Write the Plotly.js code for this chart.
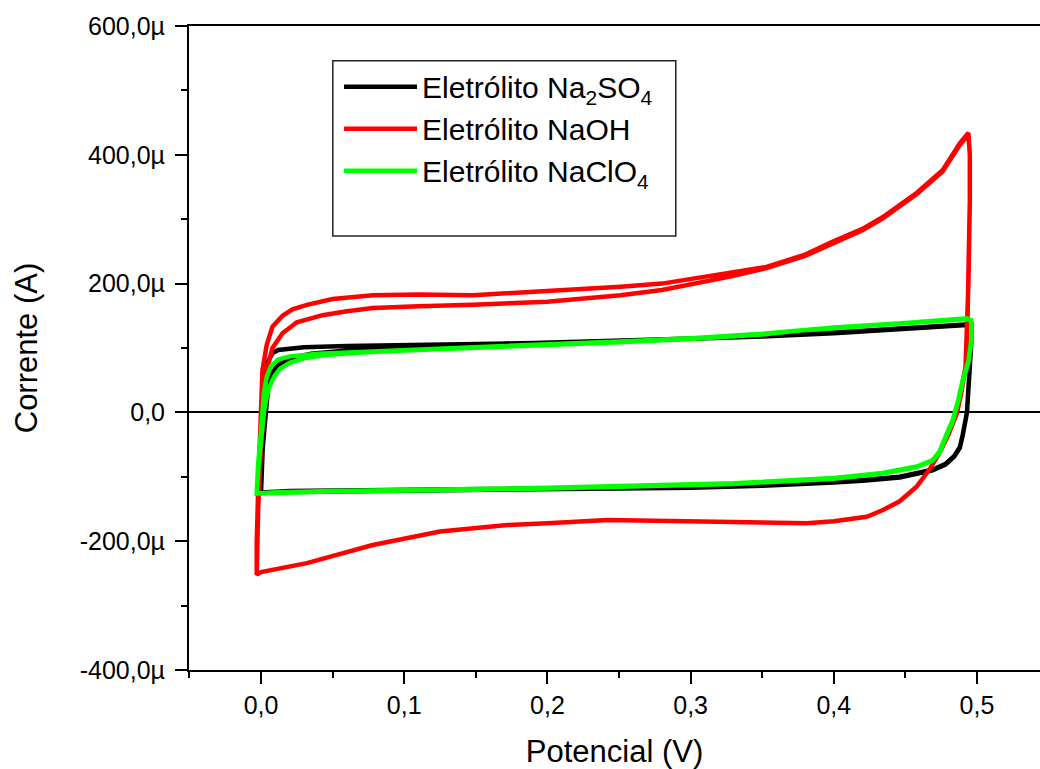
<!DOCTYPE html>
<html>
<head>
<meta charset="utf-8">
<script src="https://cdn.plot.ly/plotly-3.0.1.min.js"></script>
<style>html,body{margin:0;padding:0;background:#fff;}#chart{width:1040px;height:769px;}</style>
</head>
<body>
<div id="chart"></div>
<script>
// Series names
var seriesNames = ['Eletrólito Na<sub>2</sub>SO<sub>4</sub>', 'Eletrólito NaOH', 'Eletrólito NaClO<sub>4</sub>'];

// Potential (V) and current (µA), two cycles each
var na2so4X = [0.000,0.001,0.002,0.003,0.005,0.008,0.012,0.030,0.060,0.100,0.150,0.200,0.250,0.300,0.350,0.400,0.450,0.490,0.496,
  0.496,0.495,0.493,0.490,0.488,0.484,0.478,0.469,0.455,0.446,0.420,0.400,0.350,0.300,0.250,0.200,0.150,0.100,0.050,0.020,0.003,0.000,
  0.001,0.003,0.005,0.008,0.012,0.020,0.035,0.060,0.100,0.150,0.200,0.250,0.300,0.350,0.400,0.450,0.490,0.496,
  0.496,0.495,0.493,0.490,0.488,0.484,0.478,0.469,0.455,0.446,0.420,0.400,0.350,0.300,0.250,0.200,0.150,0.100,0.050,0.020,0.003,0.000];
var na2so4Y = [-124,-60,0,50,80,92,97,101,103,104,106,108,111,114,118,124,130,136,137,
  110,71,0,-35,-54,-68,-80,-89,-96,-100,-105,-108,-113,-116,-117,-118,-119,-120,-121,-122,-124,-125,
  -60,0,40,62,74,84,91,96,101,105,108,111,114,118,123,129,135,136,
  108,70,0,-36,-55,-69,-81,-90,-97,-101,-106,-109,-114,-117,-118,-119,-120,-121,-122,-123,-124,-125];

var naohX = [-0.003,-0.003,-0.002,-0.001,0.000,0.001,0.004,0.008,0.015,0.022,0.032,0.050,0.078,0.110,0.148,0.180,0.218,0.237,0.251,0.280,0.307,0.330,0.353,0.380,0.399,0.420,0.434,0.458,0.476,0.488,0.494,
  0.495,0.495,0.494,0.493,0.492,0.489,0.486,0.480,0.474,0.467,0.458,0.446,0.434,0.423,0.400,0.381,0.350,0.330,0.300,0.270,0.242,0.200,0.172,0.125,0.078,0.032,0.000,-0.003,
  -0.002,0.000,0.002,0.004,0.008,0.015,0.025,0.043,0.060,0.078,0.110,0.148,0.200,0.237,0.251,0.280,0.307,0.330,0.353,0.380,0.399,0.420,0.434,0.458,0.476,0.488,0.494,
  0.495,0.495,0.494,0.493,0.492,0.489,0.486,0.480,0.474,0.467,0.458,0.446,0.434,0.423,0.400,0.381,0.350,0.330,0.300,0.270,0.242,0.200,0.172,0.125,0.078,0.032,0.000,-0.003];
var naohY = [-252,-200,-120,-40,20,66,105,133,150,160,167,176,182,183,182,186,190,193,195,200,210,217,226,245,265,285,303,341,376,418,434,
  400,330,200,100,71,30,-1,-35,-62,-88,-115,-138,-152,-162,-169,-172,-171,-170,-168,-168,-167,-172,-175,-185,-206,-234,-248,-252,
  -150,-50,20,66,100,123,140,151,157,162,165,167,172,179,182,190,201,212,224,243,262,283,301,339,374,415,432,
  400,330,200,100,71,30,-1,-35,-62,-88,-115,-138,-152,-162,-169,-172,-171,-170,-168,-168,-167,-172,-175,-185,-206,-234,-248,-252];

var naclo4X = [-0.003,-0.002,0.000,0.001,0.002,0.004,0.007,0.012,0.020,0.040,0.070,0.100,0.150,0.200,0.250,0.300,0.350,0.376,0.400,0.450,0.480,0.493,0.496,
  0.496,0.494,0.490,0.487,0.483,0.478,0.474,0.469,0.458,0.434,0.400,0.330,0.300,0.250,0.200,0.150,0.100,0.050,0.010,-0.003,
  -0.002,0.000,0.002,0.004,0.006,0.009,0.013,0.020,0.030,0.045,0.070,0.100,0.150,0.200,0.250,0.300,0.350,0.376,0.400,0.450,0.480,0.493,0.496,
  0.496,0.494,0.490,0.487,0.483,0.478,0.474,0.469,0.458,0.434,0.400,0.330,0.300,0.250,0.200,0.150,0.100,0.050,0.010,-0.003];
var naclo4Y = [-124,-80,-30,0,30,55,72,82,87,91,94,97,101,106,110,115,122,128,132,139,144,146,143,
  112,80,50,20,-12,-38,-60,-74,-84,-94,-102,-110,-112,-115,-117,-119,-120,-122,-124,-126,
  -90,-40,0,25,40,55,67,77,84,89,93,96,100,105,109,114,121,127,131,138,143,145,142,
  110,78,48,18,-14,-40,-62,-75,-85,-95,-103,-111,-113,-116,-118,-120,-121,-123,-125,-126];

var seriesX = [na2so4X, naohX, naclo4X];
var seriesY = [na2so4Y, naohY, naclo4Y];
var seriesColors = ['#000000', '#ff0000', '#00ff00'];

// Tick labels
var xTickVals = [0, 0.1, 0.2, 0.3, 0.4, 0.5];
var xTickText = ['0,0', '0,1', '0,2', '0,3', '0,4', '0,5'];
var yTickVals = [-400, -200, 0, 200, 400, 600];
var yTickText = ['-400,0µ', '-200,0µ', '0,0', '200,0µ', '400,0µ', '600,0µ'];

var traces = seriesNames.map(function(n, i) {
  return {
    x: seriesX[i], y: seriesY[i], name: n, type: 'scatter', mode: 'lines',
    line: {color: seriesColors[i], width: 4.5},
    hoverinfo: 'skip'
  };
});

var FONT = 'Liberation Sans, Arial, sans-serif';
var layout = {
  width: 1040, height: 769,
  margin: {l: 189, r: 0, t: 26, b: 99, pad: 0},
  paper_bgcolor: '#ffffff', plot_bgcolor: '#ffffff',
  font: {family: FONT, color: '#000000', size: 24},
  showlegend: true,
  legend: {
    x: 0.1763, y: 0.946, xanchor: 'left', yanchor: 'top',
    bgcolor: 'rgba(0,0,0,0)', borderwidth: 0,
    font: {family: FONT, size: 30, color: '#000000'},
    itemwidth: 73, tracegroupgap: 0
  },
  shapes: [{
    type: 'rect', xref: 'paper', yref: 'paper',
    x0: 0.169, x1: 0.572, y0: 0.674, y1: 0.946,
    line: {color: '#222222', width: 1.5}, fillcolor: 'rgba(0,0,0,0)', layer: 'below'
  }],
  xaxis: {
    range: [-0.0503, 0.544],
    tickmode: 'array', tickvals: xTickVals, ticktext: xTickText,
    ticks: 'outside', ticklen: 12, tickwidth: 2, tickcolor: '#000',
    minor: {tickmode: 'linear', tick0: 0, dtick: 0.05, ticks: 'outside', ticklen: 6, tickwidth: 2, tickcolor: '#000'},
    showline: true, linecolor: '#000', linewidth: 2, mirror: true,
    showgrid: false, zeroline: false,
    tickfont: {family: FONT, size: 25, color: '#000'},
    title: {text: 'Potencial (V)', font: {family: FONT, size: 31, color: '#000'}, standoff: 22}
  },
  yaxis: {
    range: [-400, 600],
    tickmode: 'array', tickvals: yTickVals, ticktext: yTickText,
    ticks: 'outside', ticklen: 12, tickwidth: 2, tickcolor: '#000',
    ticklabelstandoff: 5,
    minor: {tickmode: 'linear', tick0: 0, dtick: 100, ticks: 'outside', ticklen: 6, tickwidth: 2, tickcolor: '#000'},
    showline: true, linecolor: '#000', linewidth: 2, mirror: false,
    showgrid: false, zeroline: true, zerolinecolor: '#000', zerolinewidth: 2,
    tickfont: {family: FONT, size: 25, color: '#000'},
    title: {text: 'Corrente (A)', font: {family: FONT, size: 31, color: '#000'}, standoff: 33}
  }
};

Plotly.newPlot('chart', traces, layout, {staticPlot: true, displayModeBar: false});
</script>
</body>
</html>
